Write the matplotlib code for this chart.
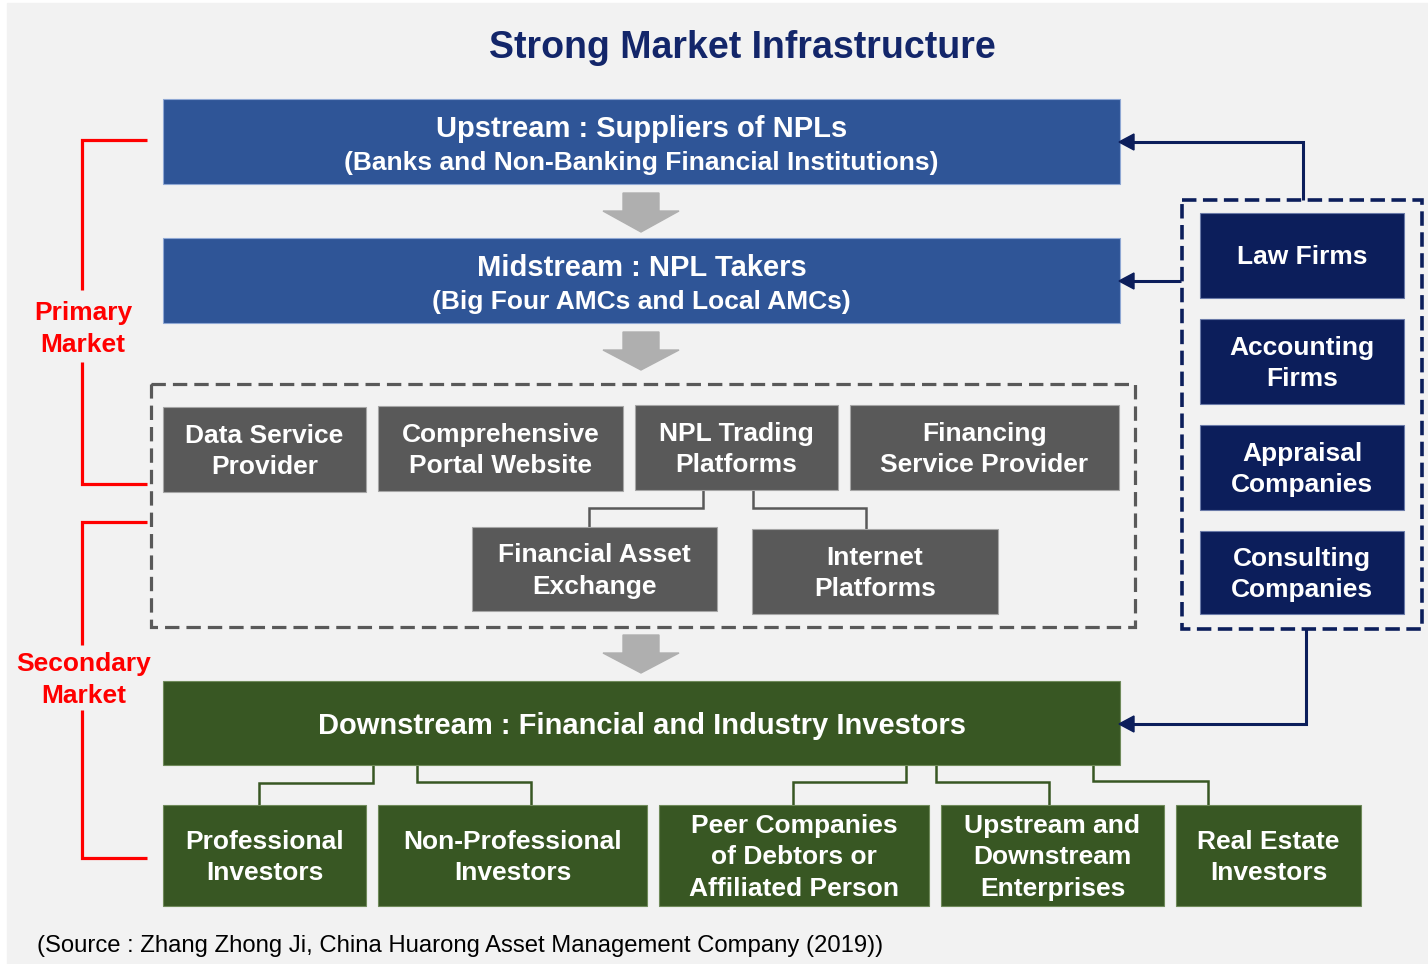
import matplotlib.pyplot as plt
from matplotlib.patches import Rectangle, Polygon

plt.rcParams['font.family'] = ['Liberation Sans', 'DejaVu Sans']

# ---- content ----
title = "Strong Market Infrastructure"
source = "(Source : Zhang Zhong Ji, China Huarong Asset Management Company (2019))"

main_titles = ["Upstream : Suppliers of NPLs", "Midstream : NPL Takers",
               "Downstream : Financial and Industry Investors"]
main_subtitles = ["(Banks and Non-Banking Financial Institutions)",
                  "(Big Four AMCs and Local AMCs)", ""]

platform_labels = ["Data Service\nProvider", "Comprehensive\nPortal Website",
                   "NPL Trading\nPlatforms", "Financing\nService Provider",
                   "Financial Asset\nExchange", "Internet\nPlatforms"]
investor_labels = ["Professional\nInvestors", "Non-Professional\nInvestors",
                   "Peer Companies\nof Debtors or\nAffiliated Person",
                   "Upstream and\nDownstream\nEnterprises", "Real Estate\nInvestors"]
service_labels = ["Law Firms", "Accounting\nFirms", "Appraisal\nCompanies",
                  "Consulting\nCompanies"]
market_labels = ["Primary\nMarket", "Secondary\nMarket"]

# ---- layout (pixel coords, y down) ----
main_boxes = [(163, 99, 1120, 184), (163, 238, 1120, 323), (163, 681, 1120, 765)]
main_colors = ['#2f5597', '#2f5597', '#385723']
platform_boxes = [(163, 407, 366, 492), (378, 406, 623, 491), (635, 405, 838, 490),
                  (850, 405, 1119, 490), (472, 527, 717, 611), (752, 529, 998, 614)]
investor_boxes = [(163, 805, 366, 906), (378, 805, 647, 906), (659, 805, 929, 906),
                  (941, 805, 1164, 906), (1176, 805, 1361, 906)]
service_boxes = [(1200, 213, 1404, 298), (1200, 319, 1404, 404),
                 (1200, 425, 1404, 510), (1200, 531, 1404, 614)]
gray_arrows = [(193, 211, 232), (332, 350, 370), (635, 653, 673)]

BLUE, GRAY, GREEN, NAVY = '#2f5597', '#595959', '#385723', '#0c1e5b'
LS = 1.42  # line spacing of the multi-line labels

fig = plt.figure(figsize=(14.28, 9.64), dpi=100)
ax = fig.add_axes([0, 0, 1, 1])
ax.set_xlim(0, 1428)
ax.set_ylim(964, 0)
ax.axis('off')
ax.add_patch(Rectangle((7, 3), 1421, 961, color='#f2f2f2', zorder=0))


def box(b, color, edge, label=None, size=19):
    x0, y0, x1, y1 = b
    ax.add_patch(Rectangle((x0, y0), x1 - x0, y1 - y0, facecolor=color,
                           edgecolor=edge, lw=0.8, zorder=2))
    if label:
        ax.text((x0 + x1) / 2, (y0 + y1) / 2 + 2, label, color='white', fontsize=size,
                fontweight='bold', ha='center', va='center', linespacing=LS, zorder=3)


def line(pts, color, lw, **kw):
    xs, ys = zip(*pts)
    ax.plot(xs, ys, color=color, lw=lw, solid_joinstyle='miter',
            solid_capstyle='butt', zorder=1, **kw)


ax.text(742, 48, title, color='#13266a', fontsize=27, fontweight='bold',
        ha='center', va='center')

# main stream boxes
for b, c, t, s in zip(main_boxes, main_colors, main_titles, main_subtitles):
    box(b, c, '#8fa8d4' if c == BLUE else '#6f8a5a')
    cx = (b[0] + b[2]) / 2
    if s:
        ax.text(cx, b[1] + 30, t, color='white', fontsize=21, fontweight='bold',
                ha='center', va='center', zorder=3)
        ax.text(cx, b[1] + 64, s, color='white', fontsize=19, fontweight='bold',
                ha='center', va='center', zorder=3)
    else:
        ax.text(cx, (b[1] + b[3]) / 2 + 3, t, color='white', fontsize=21,
                fontweight='bold', ha='center', va='center', zorder=3)

# gray down arrows
for top, neck, tip in gray_arrows:
    ax.add_patch(Polygon([(623, top), (659, top), (659, neck), (679, neck), (641, tip),
                          (603, neck), (623, neck)], closed=True, color='#afafaf', zorder=2))

# platform dashed frame
ax.add_patch(Rectangle((151, 384), 984, 243, fill=False, edgecolor=GRAY, lw=2.3,
                       linestyle=(0, (4.5, 2.2)), joinstyle='miter', zorder=1))
for b, t in zip(platform_boxes, platform_labels):
    box(b, GRAY, '#a6a6a6', t)
line([(703, 490), (703, 508), (589, 508), (589, 527)], GRAY, 1.8)
line([(753, 490), (753, 508), (866, 508), (866, 529)], GRAY, 1.8)

# investors
for b, t in zip(investor_boxes, investor_labels):
    box(b, GREEN, '#6f8a5a', t)
green_links = [[(373, 765), (373, 783), (259, 783), (259, 805)],
               [(417, 765), (417, 782), (531, 782), (531, 805)],
               [(906, 765), (906, 782), (793, 782), (793, 805)],
               [(936, 765), (936, 782), (1049, 782), (1049, 805)],
               [(1093, 765), (1093, 781), (1208, 781), (1208, 805)]]
for pts in green_links:
    line(pts, GREEN, 1.8)

# service providers
ax.add_patch(Rectangle((1182, 200), 240, 429, fill=False, edgecolor=NAVY, lw=2.6,
                       linestyle=(0, (4.0, 1.8)), joinstyle='miter', zorder=1))
for b, t in zip(service_boxes, service_labels):
    box(b, NAVY, '#6a7aa8', t)

navy_arrows = [[(1303, 200), (1303, 142), (1132, 142)],
               [(1181, 281), (1132, 281)],
               [(1306, 629), (1306, 724), (1132, 724)]]
for pts in navy_arrows:
    line(pts, NAVY, 2.2)
    y = pts[-1][1]
    ax.add_patch(Polygon([(1119, y), (1134, y - 8), (1134, y + 8)], closed=True,
                         color=NAVY, zorder=3))

# market brackets
RED = '#ff0000'
line([(147, 140), (82, 140), (82, 290)], RED, 2.3)
line([(82, 362), (82, 484), (147, 484)], RED, 2.3)
line([(147, 522), (82, 522), (82, 645)], RED, 2.3)
line([(82, 710), (82, 858), (147, 858)], RED, 2.3)
for (x, y), t in zip([(83, 329), (84, 680)], market_labels):
    ax.text(x, y, t, color=RED, fontsize=19, fontweight='bold', ha='center',
            va='center', linespacing=LS)

ax.text(37, 946, source, color='black', fontsize=17.2, ha='left', va='center')

fig.savefig('out.png', dpi=100)
